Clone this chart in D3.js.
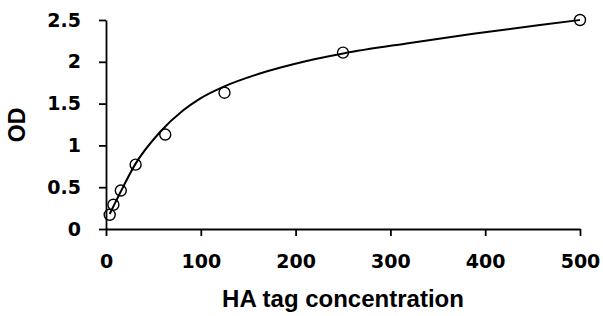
<!DOCTYPE html>
<html>
<head>
<meta charset="utf-8">
<script src="https://cdn.jsdelivr.net/npm/d3@7"></script>
<style>
  body { margin: 0; background: #fff; }
  .tick text { font-family: "DejaVu Sans", sans-serif; font-weight: bold; font-size: 19px; fill: #000; }
  .title { font-family: "Liberation Sans", Arial, sans-serif; font-weight: bold; fill: #000; }
</style>
</head>
<body>
<div id="chart"></div>
<script>
// measured points (HA tag concentration vs OD)
const conc = [3.9, 7.8, 15.6, 31.25, 62.5, 125, 250, 500];
const od = [0.17, 0.29, 0.46, 0.77, 1.13, 1.63, 2.11, 2.50];

// fitted curve
const fitX = [3.9, 9.5, 14.8, 30.6, 57, 81.5, 99.2, 123.7, 162.4, 211.7, 250.3, 317, 387.4, 457.8, 500];
const fitY = [0.18, 0.31, 0.43, 0.77, 1.16, 1.42, 1.56, 1.70, 1.86, 2.01, 2.10, 2.22, 2.335, 2.44, 2.50];

const xTicks = [0, 100, 200, 300, 400, 500];
const yTicks = [0, 0.5, 1, 1.5, 2, 2.5];

const width = 603, height = 316;
const margin = {top: 20, right: 23, bottom: 87, left: 106};

const svg = d3.select('#chart').append('svg')
    .attr('width', width)
    .attr('height', height);

const x = d3.scaleLinear().domain([0, 500]).range([margin.left, width - margin.right]);
const y = d3.scaleLinear().domain([0, 2.5]).range([height - margin.bottom, margin.top]);

// axes
const xAxis = svg.append('g')
    .attr('transform', `translate(0,${y(0)})`)
    .call(d3.axisBottom(x).tickValues(xTicks).tickSize(7).tickPadding(19).tickSizeOuter(0));
const yAxis = svg.append('g')
    .attr('transform', `translate(${x(0)},0)`)
    .call(d3.axisLeft(y).tickValues(yTicks).tickSize(7).tickPadding(18).tickSizeOuter(0)
        .tickFormat(d3.format('')));

[xAxis, yAxis].forEach(g => {
  g.selectAll('path.domain').attr('stroke', '#000').attr('stroke-width', 1.8);
  g.selectAll('.tick line').attr('stroke', '#000').attr('stroke-width', 1.8);
});

// fitted line
const line = d3.line()
    .curve(d3.curveMonotoneX)
    .x((d, i) => x(fitX[i]))
    .y((d, i) => y(fitY[i]));

svg.append('path')
    .datum(fitX)
    .attr('fill', 'none')
    .attr('stroke', '#000')
    .attr('stroke-width', 2)
    .attr('d', line);

// data points
svg.append('g').selectAll('circle')
    .data(conc)
    .join('circle')
    .attr('cx', d => x(d))
    .attr('cy', (d, i) => y(od[i]))
    .attr('r', 5.5)
    .attr('fill', 'none')
    .attr('stroke', '#000')
    .attr('stroke-width', 1.4);

// axis titles
svg.append('text')
    .attr('class', 'title')
    .attr('x', 343)
    .attr('y', 307)
    .attr('text-anchor', 'middle')
    .style('font-size', '24px')
    .text('HA tag concentration');

svg.append('text')
    .attr('class', 'title')
    .attr('transform', 'translate(25,125) rotate(-90)')
    .attr('text-anchor', 'middle')
    .style('font-size', '23px')
    .text('OD');
</script>
</body>
</html>
